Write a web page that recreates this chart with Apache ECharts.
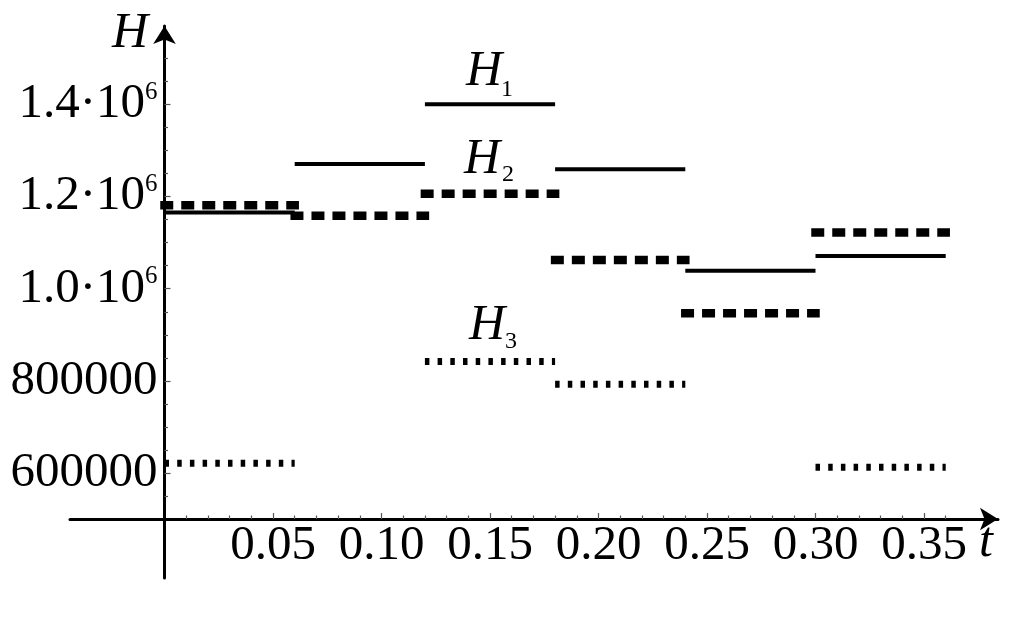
<!DOCTYPE html>
<html>
<head>
<meta charset="utf-8">
<script src="https://cdn.jsdelivr.net/npm/echarts@6/dist/echarts.min.js"></script>
<style>
html,body{margin:0;padding:0;background:#fff;}
#chart{width:1009px;height:623px;}
</style>
</head>
<body>
<div id="chart"></div>
<script>
// ---- data ----
const tEdges = [0, 0.06, 0.12, 0.18, 0.24, 0.30, 0.36];
const H1 = [1165000, 1270000, 1400000, 1259000, 1039000, 1071000];
const H2 = [1181000, 1158000, 1206000, 1062000, 947000, 1122000];
const H3 = [622000, null, 842000, 793000, null, 613000];
const xMajorTicks = [0.05, 0.10, 0.15, 0.20, 0.25, 0.30, 0.35];
const xMinorTicks = [0.01, 0.02, 0.03, 0.04, 0.06, 0.07, 0.08, 0.09, 0.11, 0.12, 0.13, 0.14,
  0.16, 0.17, 0.18, 0.19, 0.21, 0.22, 0.23, 0.24, 0.26, 0.27, 0.28, 0.29, 0.31, 0.32, 0.33, 0.34, 0.36];
const yMajorTicks = [600000, 800000, 1000000, 1200000, 1400000];
const yMinorTicks = [550000, 650000, 700000, 750000, 850000, 900000, 950000, 1050000, 1100000,
  1150000, 1250000, 1300000, 1350000, 1450000, 1500000];
const seriesLabels = ['1', '2', '3'];

// ---- chart ----
const FONT = 'Liberation Serif';
const X_MIN = -0.04355, X_MAX = 0.3841;
const Y_MIN = 373100, Y_MAX = 1569300;

const styles = [
  { color: '#000', width: 4, type: 'solid', cap: 'butt' },
  { color: '#000', width: 8.5, type: [4.5, 16.5], cap: 'square' },
  { color: '#000', width: 7, type: [4.5, 8.2], cap: 'butt' }
];
const series = [];
[H1, H2, H3].forEach(function (vals, k) {
  vals.forEach(function (v, i) {
    if (v == null) return;
    series.push({
      type: 'line', name: 'H' + seriesLabels[k], xAxisIndex: 0, yAxisIndex: 0,
      data: [[tEdges[i], v], [tEdges[i + 1], v]],
      symbol: 'none', silent: true, animation: false,
      lineStyle: styles[k]
    });
  });
});

const TICK = { color: '#555', width: 1.2 };
function xAxisBase(ticks, len, withLine, withLabel) {
  return {
    type: 'value', min: X_MIN, max: X_MAX, position: 'bottom', offset: -59,
    splitLine: { show: false },
    axisLine: { show: withLine, onZero: false, symbol: ['none', 'arrow'], symbolSize: [17, 18],
      lineStyle: { color: '#000', width: 3 } },
    axisTick: { show: true, inside: true, length: len, customValues: ticks, lineStyle: TICK },
    axisLabel: withLabel ? { show: true, customValues: ticks, margin: 3,
      fontSize: 49, fontFamily: FONT, color: '#000',
      formatter: function (v) { return v.toFixed(2); } } : { show: false }
  };
}
function yAxisBase(ticks, len, withLine, withLabel) {
  return {
    type: 'value', min: Y_MIN, max: Y_MAX, position: 'left', offset: -94.5,
    splitLine: { show: false },
    axisLine: { show: withLine, onZero: false, symbol: ['none', 'arrow'], symbolSize: [17, 18],
      lineStyle: { color: '#000', width: 3 } },
    axisTick: { show: true, inside: true, length: len, customValues: ticks, lineStyle: TICK },
    axisLabel: withLabel ? { show: true, customValues: ticks, margin: 7,
      formatter: function (v) {
        if (v >= 1e6) return '{a|' + (v / 1e6).toFixed(1) + '·10}{s|6}';
        return '{a|' + v + '}';
      },
      rich: {
        a: { fontSize: 49, fontFamily: FONT, color: '#000', lineHeight: 49 },
        s: { fontSize: 25, fontFamily: FONT, color: '#000', lineHeight: 20, verticalAlign: 'top' }
      } } : { show: false }
  };
}

function txt(x, y, s, size, italic) {
  return { type: 'text', x: x, y: y, silent: true,
    style: { text: s, font: (italic ? 'italic ' : '') + size + 'px "' + FONT + '"',
      fill: '#000', textAlign: 'left', align: 'left', textVerticalAlign: 'middle', verticalAlign: 'middle' } };
}

const chart = echarts.init(document.getElementById('chart'), null, { renderer: 'canvas' });
chart.setOption({
  animation: false,
  backgroundColor: '#fff',
  textStyle: { fontFamily: FONT },
  grid: { left: 70, right: 11, top: 26, bottom: 45, containLabel: false, outerBoundsMode: 'none' },
  xAxis: [xAxisBase(xMajorTicks, 6, true, true), xAxisBase(xMinorTicks, 3.5, false, false)],
  yAxis: [yAxisBase(yMajorTicks, 6, true, true), yAxisBase(yMinorTicks, 3.5, false, false)],
  series: series,
  graphic: [
    txt(112, 34, 'H', 50, true),
    txt(979, 543, 't', 50, true),
    txt(466, 72, 'H', 50, true), txt(501, 90, seriesLabels[0], 24, false),
    txt(464, 160, 'H', 50, true), txt(502, 175, seriesLabels[1], 24, false),
    txt(469, 326, 'H', 50, true), txt(505, 342, seriesLabels[2], 24, false)
  ]
});
</script>
</body>
</html>
